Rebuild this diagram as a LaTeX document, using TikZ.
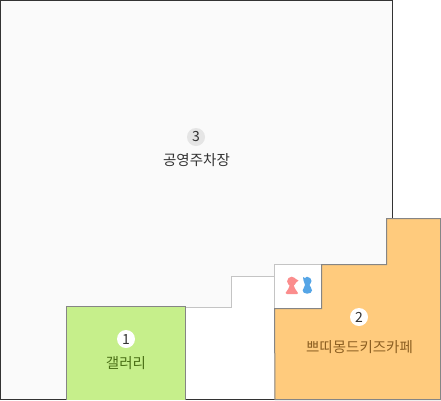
\documentclass[tikz,border=0pt]{standalone}
\usepackage{fontspec}
\setmainfont{Noto Sans CJK KR}
\colorlet{parkfill}{black!2}
\definecolor{galleryfill}{HTML}{C6EF8B}
\definecolor{cafefill}{HTML}{FFCB7D}
\definecolor{gallerytext}{HTML}{4A6F16}
\definecolor{cafetext}{HTML}{8C5F22}
\definecolor{roomline}{HTML}{858585}
\definecolor{outerline}{HTML}{333333}
\definecolor{thinline}{HTML}{C4C4C4}
\definecolor{ladyicon}{HTML}{FB8D8D}
\definecolor{manicon}{HTML}{55A5E6}

\begin{document}
\begin{tikzpicture}
    [x=1pt,y=-1pt,
      room/.style={draw=roomline,line width=1pt},
      badge/.style={circle,fill=white,minimum size=18pt,inner sep=0pt,font=\fontsize{14}{14}\selectfont,text=black!80},
      roomlabel/.style={font=\fontsize{14.5}{14}\selectfont,inner sep=0pt}]
    \useasboundingbox (0,0) rectangle (441,400);

    % parking lot and the white gap
    \fill[parkfill] (0,0) rectangle (392,399);
    \fill[white] (186,307.5) -- (231.5,307.5) -- (231.5,276.5) -- (274.5,276.5) -- (274.5,264.5) -- (392,264.5) -- (392,400) -- (186,400) -- cycle;
    \draw[thinline,line width=1pt] (186,307.5) -- (231.5,307.5) -- (231.5,276.5) -- (274.5,276.5);
    \draw[outerline,line width=1pt] (392.5,218) -- (392.5,.5) -- (.5,.5) -- (.5,399.5) -- (275,399.5);

    % rooms
    \draw[room,fill=galleryfill] (66.5,399.5) -- (66.5,306.5) -- (185.5,306.5) -- (185.5,399.5);
    \fill[cafefill] (274.5,399.5) -- (274.5,308.5) -- (321.5,308.5) -- (321.5,264.5) -- (386.5,264.5) -- (386.5,218.5) -- (440.5,218.5) -- (440.5,399.5) -- cycle;
    \draw[room] (440.5,399.5) -- (275,399.5) -- (274.5,308.5) -- (321.5,308.5) -- (321.5,264.5) -- (386.5,264.5) -- (386.5,218.5) -- (440.5,218.5) -- cycle;
    \draw[thinline,line width=1pt] (274.5,308) -- (274.5,264.5) -- (321,264.5);

    % toilet icons
    \fill[ladyicon] (291.7,281.3) circle (4.6pt);
    \fill[ladyicon] (295,278.5) -- (298.5,280.5) -- (295,283.5) -- cycle;
    \fill[ladyicon] (289.7,284) -- (293.7,284) .. controls (294,288) and (296,290) .. (298,293) -- (297,294) -- (287,294) -- (285.5,293) .. controls (287.5,290) and (289.5,288) .. (289.7,284) -- cycle;
    \fill[manicon] (303,277) -- (305,278) -- (307,276.7) .. controls (310,277) and (311.5,279) .. (311.5,281) .. controls (311.5,283) and (309.5,284) .. (309.5,285) .. controls (309.5,286.5) and (312.3,288) .. (312,290.5) .. controls (311.8,292.5) and (310,293.7) .. (307,293.7) .. controls (304,293.7) and (302.7,292) .. (302.7,290.3) .. controls (302.7,288.5) and (305,287) .. (305,285) .. controls (305,283.5) and (303.5,282) .. (303.5,280.5) -- cycle;

    \node[badge,fill=black!10] (parkno) at (196,137) {3};
    \node[roomlabel,text=black!80] (parkname) at (196.5,160) {공영주차장};
    \node[badge] (galleryno) at (126,339) {1};
    \node[roomlabel,text=gallerytext] (galleryname) at (126,363) {갤러리};
    \node[badge] (cafeno) at (359,317) {2};
    \node[roomlabel,text=cafetext] (cafename) at (359.5,347) {쁘띠몽드키즈카페};
\end{tikzpicture}
\end{document}
